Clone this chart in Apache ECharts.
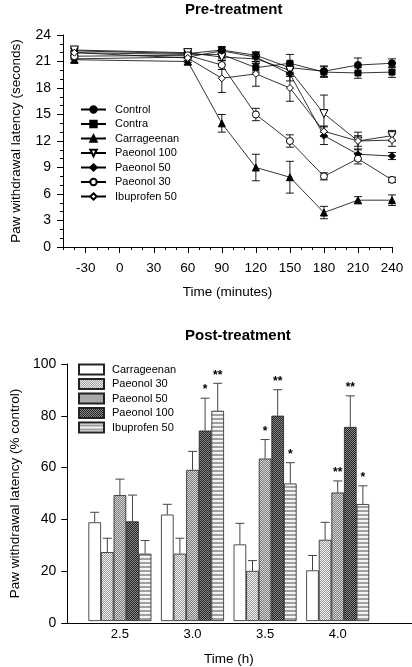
<!DOCTYPE html>
<html><head><meta charset="utf-8">
<script src="https://cdn.jsdelivr.net/npm/echarts@6/dist/echarts.min.js"></script>
<style>html,body{margin:0;padding:0;background:#fff}#c{width:412px;height:667px}</style>
</head><body><div id="c"></div>
<script>
// ---------- Pre-treatment data ----------
const times = [-40, 60, 90, 120, 150, 180, 210, 240];
const xTickValues = [-30, 0, 30, 60, 90, 120, 150, 180, 210, 240];
const control      = [22.2, 21.9, 22.3, 21.7, 20.3, 19.9, 20.6, 20.8];
const controlErr   = [0.5, 0.4, 0.4, 0.4, 0.6, 0.6, 0.8, 0.5];
const contra       = [22.0, 21.8, 21.8, 20.3, 20.8, 19.8, 19.7, 19.8];
const contraErr    = [0.5, 0.4, 0.5, 0.5, 1.0, 0.6, 0.6, 0.6];
const carrageenan  = [21.2, 21.0, 14.0, 9.0, 7.9, 3.9, 5.3, 5.3];
const carrageenanErr = [0.4, 0.4, 1.0, 1.5, 1.8, 0.7, 0.4, 0.6];
const paeonol100   = [22.3, 22.0, 21.5, 21.3, 20.0, 15.1, 12.0, 12.6];
const paeonol100Err = [0.4, 0.4, 0.4, 0.5, 0.7, 2.1, 0.6, 0.6];
const paeonol50    = [21.3, 21.5, 22.2, 21.5, 19.6, 12.6, 10.5, 10.3];
const paeonol50Err = [0.4, 0.4, 0.4, 0.5, 0.8, 1.0, 0.6, 0.4];
const paeonol30    = [21.6, 21.7, 20.6, 15.0, 12.0, 8.0, 10.0, 7.6];
const paeonol30Err = [0.4, 0.4, 0.5, 0.7, 0.7, 0.4, 0.6, 0.3];
const ibuprofen50  = [22.0, 21.4, 19.1, 19.6, 18.0, 13.1, 12.0, 12.1];
const ibuprofen50Err = [0.5, 0.5, 1.6, 1.4, 1.5, 0.6, 1.0, 0.7];

// ---------- Post-treatment data ----------
const hours = ['2.5', '3.0', '3.5', '4.0'];
const postCarr   = [38.4, 41.4, 29.8, 19.7];
const postCarrErr = [3.9, 4.0, 8.2, 5.8];
const postP30    = [26.8, 26.2, 19.5, 31.6];
const postP30Err = [5.4, 6.0, 4.0, 6.8];
const postP50    = [49.0, 58.8, 63.2, 50.0];
const postP50Err = [6.2, 7.2, 7.4, 4.5];
const postP100   = [38.8, 74.1, 79.9, 75.5];
const postP100Err = [10.2, 12.6, 10.1, 12.1];
const postIbu    = [26.2, 81.8, 53.5, 45.5];
const postIbuErr = [5.1, 10.7, 8.1, 7.1];
const sigCarr = ['', '', '', ''];
const sigP30  = ['', '', '', ''];
const sigP50  = ['', '', '*', '**'];
const sigP100 = ['', '*', '**', '**'];
const sigIbu  = ['', '**', '*', '*'];

const FONT = 'Liberation Sans, Arial, sans-serif';

function pattern(w, h, draw) {
  const c = document.createElement('canvas');
  c.width = w; c.height = h;
  const g = c.getContext('2d');
  draw(g);
  return { image: c, repeat: 'repeat' };
}
function checker(a, b) {
  return pattern(2, 2, g => {
    g.fillStyle = a; g.fillRect(0, 0, 2, 2);
    g.fillStyle = b; g.fillRect(1, 0, 1, 1); g.fillRect(0, 1, 1, 1);
  });
}
const patP30 = checker('#f2f2f2', '#9a9a9a');
const patP50 = checker('#d8d8d8', '#7a7a7a');
const patP100 = checker('#8a8a8a', '#222222');
const patIbu = pattern(1, 4, g => {
  g.fillStyle = '#f4f4f4'; g.fillRect(0, 0, 1, 2);
  g.fillStyle = '#a0a0a0'; g.fillRect(0, 2, 1, 2);
});

const invTri = 'path://M0,0 L10,0 L5,9 Z';

function lineSeries(name, vals, symbol, filled) {
  return {
    type: 'line', name, xAxisIndex: 0, yAxisIndex: 0,
    data: times.map((t, i) => [t, vals[i]]),
    symbol, symbolSize: symbol === 'rect' ? 6 : (symbol === invTri ? 8 : 7),
    showAllSymbol: true,
    lineStyle: { color: '#000', width: 0.8 },
    itemStyle: { color: filled ? '#000' : '#fff', borderColor: '#000', borderWidth: 1 },
    emphasis: { disabled: true }, z: 3, silent: true
  };
}
function errSeries(vals, errs) {
  return {
    type: 'custom', xAxisIndex: 0, yAxisIndex: 0, silent: true, z: 2,
    data: times.map((t, i) => [t, vals[i], errs[i]]),
    renderItem: (params, api) => {
      const x = api.value(0), y = api.value(1), e = api.value(2);
      const hi = api.coord([x, y + e]), lo = api.coord([x, y - e]);
      const w = 4, st = { stroke: '#000', lineWidth: 0.9 };
      return { type: 'group', children: [
        { type: 'line', shape: { x1: hi[0], y1: hi[1], x2: lo[0], y2: lo[1] }, style: st },
        { type: 'line', shape: { x1: hi[0] - w, y1: hi[1], x2: hi[0] + w, y2: hi[1] }, style: st },
        { type: 'line', shape: { x1: lo[0] - w, y1: lo[1], x2: lo[0] + w, y2: lo[1] }, style: st }
      ]};
    }
  };
}

const BARW = 12.6;
function barSeries(name, vals, color) {
  return {
    type: 'bar', name, xAxisIndex: 3, yAxisIndex: 3, data: vals,
    barWidth: BARW, barGap: '0%',
    itemStyle: { color, borderColor: '#222', borderWidth: 0.8 },
    emphasis: { disabled: true }, silent: true, z: 3
  };
}
function barErr(idx, vals, errs, sig) {
  return {
    type: 'custom', xAxisIndex: 3, yAxisIndex: 3, silent: true, z: 4,
    data: vals.map((v, i) => [i, v, errs[i]]),
    renderItem: (params, api) => {
      const i = api.value(0), v = api.value(1), e = api.value(2);
      const base = api.coord([i, v]);
      const top = api.coord([i, v + e]);
      const x = base[0] + (idx - 2) * BARW;
      const st = { stroke: '#444', lineWidth: 1 };
      const ch = [
        { type: 'line', shape: { x1: x, y1: base[1], x2: x, y2: top[1] }, style: st },
        { type: 'line', shape: { x1: x - 4.5, y1: top[1], x2: x + 4.5, y2: top[1] }, style: st }
      ];
      const s = sig[params.dataIndex];
      if (s) ch.push({ type: 'text', style: { text: s, x: x, y: top[1] - 2, align: 'center', verticalAlign: 'bottom', font: 'bold 12px ' + FONT, fill: '#000' } });
      return { type: 'group', children: ch };
    }
  };
}

const chart = echarts.init(document.getElementById('c'), null, { renderer: 'canvas' });
const axisLineStyle = { color: '#000', width: 1 };
chart.setOption({
  animation: false,
  backgroundColor: '#fff',
  textStyle: { fontFamily: FONT },
  title: [
    { text: 'Pre-treatment', left: 185, top: 2, padding: 0, textStyle: { fontSize: 15, fontWeight: 'bold', color: '#000', fontFamily: FONT } },
    { text: 'Post-treatment', left: 185, top: 328, padding: 0, textStyle: { fontSize: 15, fontWeight: 'bold', color: '#000', fontFamily: FONT } }
  ],
  legend: [
    {
      orient: 'vertical', left: 80, top: 103, itemWidth: 25, itemHeight: 8, itemGap: 1.5,
      padding: 0,
      data: ['Control', 'Contra', 'Carrageenan', 'Paeonol 100', 'Paeonol 50', 'Paeonol 30', 'Ibuprofen 50'],
      textStyle: { fontSize: 11, color: '#000', fontFamily: FONT, padding: [0, 0, 0, 4], lineHeight: 13 }
    },
    {
      orient: 'vertical', left: 78, top: 363, itemWidth: 25, itemHeight: 10, itemGap: 1.5,
      padding: 0, icon: 'rect',
      data: ['Carrageenan ', 'Paeonol 30 ', 'Paeonol 50 ', 'Paeonol 100 ', 'Ibuprofen 50 '],
      formatter: n => n.trim(),
      textStyle: { fontSize: 11, color: '#000', fontFamily: FONT, padding: [0, 0, 0, 3], lineHeight: 13 }
    }
  ],
  grid: [
    { left: 63, right: 20, top: 35, bottom: 420 },
    { left: 61, right: 0, top: 364, bottom: 44 },
    { left: 83.6, right: 38, top: 364, bottom: 44 }
  ],
  xAxis: [
    { gridIndex: 0, type: 'value', min: -50, max: 240,
      name: 'Time (minutes)', nameLocation: 'middle', nameGap: 38,
      nameTextStyle: { fontSize: 13.5, color: '#000', fontFamily: FONT },
      axisLine: { show: true, onZero: false, lineStyle: axisLineStyle },
      axisTick: { show: true, customValues: xTickValues, length: 6, inside: false, lineStyle: axisLineStyle },
      axisLabel: { customValues: xTickValues, fontSize: 13.5, color: '#000', margin: 14, fontFamily: FONT },
      splitLine: { show: false } },
    { gridIndex: 0, type: 'value', min: -50, max: 240, interval: 10, position: 'bottom',
      axisLine: { show: false, onZero: false }, axisLabel: { show: false },
      axisTick: { show: true, length: 3, lineStyle: axisLineStyle }, splitLine: { show: false } },
    { gridIndex: 1, type: 'value', min: 0, max: 1,
      axisLine: { show: true, onZero: false, lineStyle: axisLineStyle }, axisTick: { show: false },
      axisLabel: { show: false }, splitLine: { show: false } },
    { gridIndex: 2, type: 'category', data: hours,
      name: 'Time (h)', nameLocation: 'middle', nameGap: 31,
      nameTextStyle: { fontSize: 13.5, color: '#000', fontFamily: FONT },
      axisLine: { show: false, onZero: false }, axisTick: { show: false },
      axisLabel: { fontSize: 13, color: '#000', margin: 7, fontFamily: FONT } }
  ],
  yAxis: [
    { gridIndex: 0, type: 'value', min: 0, max: 24, interval: 3,
      name: 'Paw withdrawal latency (seconds)', nameLocation: 'middle', nameGap: 40,
      nameTextStyle: { fontSize: 13.5, color: '#000', fontFamily: FONT },
      axisLine: { show: true, onZero: false, lineStyle: axisLineStyle },
      axisTick: { show: true, length: 6, lineStyle: axisLineStyle },
      minorTick: { show: true, splitNumber: 3, length: 3, lineStyle: axisLineStyle },
      axisLabel: { fontSize: 14, color: '#000', margin: 12, fontFamily: FONT },
      splitLine: { show: false } },
    { gridIndex: 0, type: 'value', min: 0, max: 24, show: false, axisLine: { onZero: false } },
    { gridIndex: 1, type: 'value', min: 0, max: 100, interval: 20,
      name: 'Paw withdrawal latency (% control)', nameLocation: 'middle', nameGap: 38,
      nameTextStyle: { fontSize: 13.5, color: '#000', fontFamily: FONT },
      axisLine: { show: true, onZero: false, lineStyle: axisLineStyle },
      axisTick: { show: true, length: 6, lineStyle: axisLineStyle },
      axisLabel: { fontSize: 14, color: '#000', margin: 11, fontFamily: FONT },
      splitLine: { show: false } },
    { gridIndex: 2, type: 'value', min: 0, max: 100, show: false, axisLine: { onZero: false } }
  ],
  series: [
    errSeries(control, controlErr),
    errSeries(contra, contraErr),
    errSeries(carrageenan, carrageenanErr),
    errSeries(paeonol100, paeonol100Err),
    errSeries(paeonol50, paeonol50Err),
    errSeries(paeonol30, paeonol30Err),
    errSeries(ibuprofen50, ibuprofen50Err),
    lineSeries('Control', control, 'circle', true),
    lineSeries('Contra', contra, 'rect', true),
    lineSeries('Carrageenan', carrageenan, 'triangle', true),
    lineSeries('Paeonol 100', paeonol100, invTri, false),
    lineSeries('Paeonol 50', paeonol50, 'diamond', true),
    lineSeries('Paeonol 30', paeonol30, 'circle', false),
    lineSeries('Ibuprofen 50', ibuprofen50, 'diamond', false),
    barSeries('Carrageenan ', postCarr, '#ffffff'),
    barSeries('Paeonol 30 ', postP30, patP30),
    barSeries('Paeonol 50 ', postP50, patP50),
    barSeries('Paeonol 100 ', postP100, patP100),
    barSeries('Ibuprofen 50 ', postIbu, patIbu),
    barErr(0, postCarr, postCarrErr, sigCarr),
    barErr(1, postP30, postP30Err, sigP30),
    barErr(2, postP50, postP50Err, sigP50),
    barErr(3, postP100, postP100Err, sigP100),
    barErr(4, postIbu, postIbuErr, sigIbu)
  ]
});
</script>
</body></html>
